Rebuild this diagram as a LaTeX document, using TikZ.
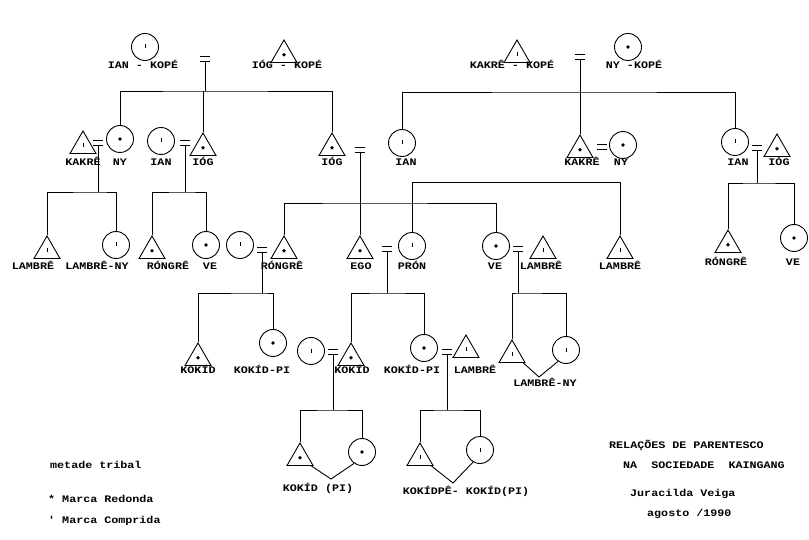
\documentclass[tikz,border=0pt]{standalone}
\usepackage{fontspec}
\setmonofont{Liberation Mono}[FakeStretch=1.17]
\usetikzlibrary{shapes.geometric}
\begin{document}
\begin{tikzpicture}[x=1pt,y=-1pt,
  fem/.style={draw, circle, minimum size=27pt, inner sep=0pt, line width=0.9pt},
  mal/.style={draw, regular polygon, regular polygon sides=3, minimum size=30pt, inner sep=0pt, line width=0.9pt},
  cdot/.style={path picture={\fill (path picture bounding box.center) circle (1.9pt);}},
  tdot/.style={path picture={\fill ([yshift=-3.5pt]path picture bounding box.center) circle (1.9pt);}},
  ctick/.style={path picture={\draw[line width=1pt] ([yshift=2.5pt]path picture bounding box.center) -- ([yshift=-1.5pt]path picture bounding box.center);}},
  ttick/.style={path picture={\draw[line width=1pt] ([yshift=-1pt]path picture bounding box.center) -- ([yshift=-5pt]path picture bounding box.center);}},
  eqs/.style={inner sep=0pt, minimum width=9pt, minimum height=4pt,
    append after command={\pgfextra{\draw[line width=0.9pt] (\tikzlastnode.north west) -- (\tikzlastnode.north east) (\tikzlastnode.south west) -- (\tikzlastnode.south east);}}},
  lbl/.style={font=\ttfamily\bfseries\fontsize{10}{12}\selectfont, inner sep=0pt, anchor=base},
  txt/.style={font=\ttfamily\bfseries\fontsize{10}{12}\selectfont, inner sep=0pt, anchor=base west},
  ln/.style={line width=0.9pt}
]
\useasboundingbox (0,0) rectangle (809,540);

% ---------- row 0 ----------
\node[fem,ctick] (cIanK) at (145,47) {};
\node[mal,tdot]  (tIogK) at (284,55) {};
\node[eqs] (eqTL) at (205,59) {};
\node[mal,ttick] (tKakK) at (517,55) {};
\node[fem,cdot]  (cNyK) at (628,47) {};
\node[eqs] (eqTR) at (580,57) {};
\node[lbl] (lIanK) at (143,69) {IAN - KOPÉ};
\node[lbl] (lIogK) at (287,69) {IÓG - KOPÉ};
\node[lbl] (lKakK) at (512,69) {KAKRÊ - KOPÉ};
\node[lbl] (lNyK)  at (634,69) {NY -KOPÉ};

% ---------- row 1 ----------
\node[mal,ttick] (tKak1) at (83,146) {};
\node[eqs] (eq1) at (98,143) {};
\node[fem,cdot]  (cNy1) at (120,139) {};
\node[fem,ctick] (cIan1) at (161,141) {};
\node[eqs] (eq2) at (185,143) {};
\node[mal,tdot]  (tIog1) at (203,148) {};
\node[mal,tdot]  (tIog2) at (332,148) {};
\node[eqs] (eq3) at (360,150) {};
\node[fem,ctick] (cIan2) at (402,143) {};
\node[mal,tdot]  (tKak2) at (580,150) {};
\node[eqs] (eq4) at (602,147) {};
\node[fem,cdot]  (cNy2) at (623,145) {};
\node[fem,ctick] (cIan3) at (735,142) {};
\node[eqs] (eq5) at (757,148) {};
\node[mal,tdot]  (tIog3) at (777,149) {};
\node[lbl] (lKak1) at (83,166) {KAKRÊ};
\node[lbl] (lNy1)  at (120,166) {NY};
\node[lbl] (lIan1) at (161,166) {IAN};
\node[lbl] (lIog1) at (203,166) {IÓG};
\node[lbl] (lIog2) at (332,166) {IÓG};
\node[lbl] (lIan2) at (406,166) {IAN};
\node[lbl] (lKak2) at (582,166) {KAKRÊ};
\node[lbl] (lNy2)  at (621,166) {NY};
\node[lbl] (lIan3) at (738,166) {IAN};
\node[lbl] (lIog3) at (779,166) {IÓG};

% ---------- row 2 ----------
\node[mal,ttick] (tLam1) at (47,251) {};
\node[fem,ctick] (cLamNy) at (116,245) {};
\node[mal,tdot]  (tRong1) at (152,251) {};
\node[fem,cdot]  (cVe1) at (206,245) {};
\node[fem,ctick] (cX) at (240,245) {};
\node[eqs] (eq6) at (262,250) {};
\node[mal,tdot]  (tRong2) at (284,251) {};
\node[mal,tdot]  (tJog) at (360,251) {};
\node[eqs] (eq7) at (387,249) {};
\node[fem,ctick] (cPron) at (412,246) {};
\node[fem,cdot]  (cVe2) at (496,246) {};
\node[eqs] (eq8) at (518,249) {};
\node[mal,ttick] (tLam2) at (543,251) {};
\node[mal,ttick] (tLam3) at (620,251) {};
\node[mal,tdot]  (tRong3) at (728,245) {};
\node[fem,cdot]  (cVe3) at (794,238) {};
\node[lbl] (lLam1) at (33,270) {LAMBRÊ};
\node[lbl] (lLamNy) at (97,270) {LAMBRÊ-NY};
\node[lbl] (lRong1) at (168,270) {RÓNGRÊ};
\node[lbl] (lVe1) at (210,270) {VE};
\node[lbl] (lRong2) at (282,270) {RÓNGRÊ};
\node[lbl] (lJog) at (361,270) {EGO};
\node[lbl] (lPron) at (412,270) {PRÓN};
\node[lbl] (lVe2) at (495,270) {VE};
\node[lbl] (lLam2) at (541,270) {LAMBRÊ};
\node[lbl] (lLam3) at (620,270) {LAMBRÊ};
\node[lbl] (lRong3) at (726,266) {RÓNGRÊ};
\node[lbl] (lVe3) at (793,266) {VE};

% ---------- row 3 ----------
\node[mal,tdot]  (tKok1) at (198,358) {};
\node[fem,cdot]  (cKokPi1) at (273,343) {};
\node[fem,ctick] (cY) at (311,351) {};
\node[eqs] (eq9) at (333,352) {};
\node[mal,tdot]  (tKok2) at (351,358) {};
\node[fem,cdot]  (cKokPi2) at (424,348) {};
\node[eqs] (eq10) at (447,352) {};
\node[mal,ttick] (tLam4) at (466,350) {};
\node[mal,ttick] (tX) at (512,355) {};
\node[fem,ctick] (cX2) at (566,350) {};
\node[lbl] (lKok1) at (198,373) {KOKÍD};
\node[lbl] (lKokPi1) at (262,373) {KOKÍD-PI};
\node[lbl] (lKok2) at (352,373) {KOKÍD};
\node[lbl] (lKokPi2) at (412,373) {KOKÍD-PI};
\node[lbl] (lLam4) at (475,373) {LAMBRÊ};
\node[lbl] (lLamNy2) at (545,386) {LAMBRÊ-NY};

% ---------- row 4 ----------
\node[mal,tdot]  (tB1) at (300,458) {};
\node[fem,cdot]  (cB1) at (362,452) {};
\node[mal,ttick] (tB2) at (420,458) {};
\node[fem,ctick] (cB2) at (480,450) {};
\node[lbl] (lB1) at (318,491) {KOKÍD (PI)};
\node[lbl] (lB2) at (466,494) {KOKÍDPÊ- KOKÍD(PI)};

% ---------- junction coordinates ----------
\coordinate (jTL) at (205,91);
\coordinate (jTR) at (580,92);
\coordinate (j1) at (98,192);
\coordinate (j2) at (185,192);
\coordinate (j3) at (360,203);
\coordinate (j4) at (620,182);
\coordinate (j5) at (757,183);
\coordinate (j6) at (262,293);
\coordinate (j7) at (387,293);
\coordinate (j8) at (518,293);
\coordinate (j9) at (333,410);
\coordinate (j10) at (447,410);
\coordinate (v8) at (539,377);
\coordinate (v9) at (331,479);
\coordinate (v10) at (453,483);

% ---------- connectors ----------
\draw[ln] (eqTL.south) -- (jTL);
\draw[ln] (cNy1.north) |- (jTL) -| (tIog2.north);
\draw[ln] (tIog1.north) -- (tIog1.north |- jTL);

\draw[ln] (eqTR.south) -- (tKak2.north);
\draw[ln] (cIan2.north) |- (jTR) -| (cIan3.north);

\draw[ln] (eq1.south) -- (j1);
\draw[ln] (tLam1.north) |- (j1) -| (cLamNy.north);
\draw[ln] (eq2.south) -- (j2);
\draw[ln] (tRong1.north) |- (j2) -| (cVe1.north);

\draw[ln] (eq3.south) -- (tJog.north);
\draw[ln] (tRong2.north) |- (j3) -| (cVe2.north);
\draw[ln] (cPron.north) |- (j4) -- (tLam3.north);
\draw[ln] (eq5.south) -- (j5);
\draw[ln] (tRong3.north) |- (j5) -| (cVe3.north);

\draw[ln] (eq6.south) -- (j6);
\draw[ln] (tKok1.north) |- (j6) -| (cKokPi1.north);
\draw[ln] (eq7.south) -- (j7);
\draw[ln] (tKok2.north) |- (j7) -| (cKokPi2.north);
\draw[ln] (eq8.south) -- (j8);
\draw[ln] (tX.north) |- (j8) -| (cX2.north);
\draw[ln] (tX.-35) -- (v8) -- (cX2.235);

\draw[ln] (eq9.south) -- (j9);
\draw[ln] (tB1.north) |- (j9) -| (cB1.north);
\draw[ln] (tB1.-35) -- (v9) -- (cB1.235);
\draw[ln] (eq10.south) -- (j10);
\draw[ln] (tB2.north) |- (j10) -| (cB2.north);
\draw[ln] (tB2.-35) -- (v10) -- (cB2.240);

% ---------- legend & title ----------
\node[txt] (leg1) at (50,468) {metade tribal};
\node[txt] (leg2) at (48,502) {* Marca Redonda};
\node[txt] (leg3) at (48,523) {' Marca Comprida};
\node[txt] (tit1) at (609,448) {RELAÇÕES DE PARENTESCO};
\node[txt] (tit2) at (623,468) {NA~~SOCIEDADE~~KAINGANG};
\node[txt] (tit3) at (630,496) {Juracilda Veiga};
\node[txt] (tit4) at (647,516) {agosto /1990};
\end{tikzpicture}
\end{document}
